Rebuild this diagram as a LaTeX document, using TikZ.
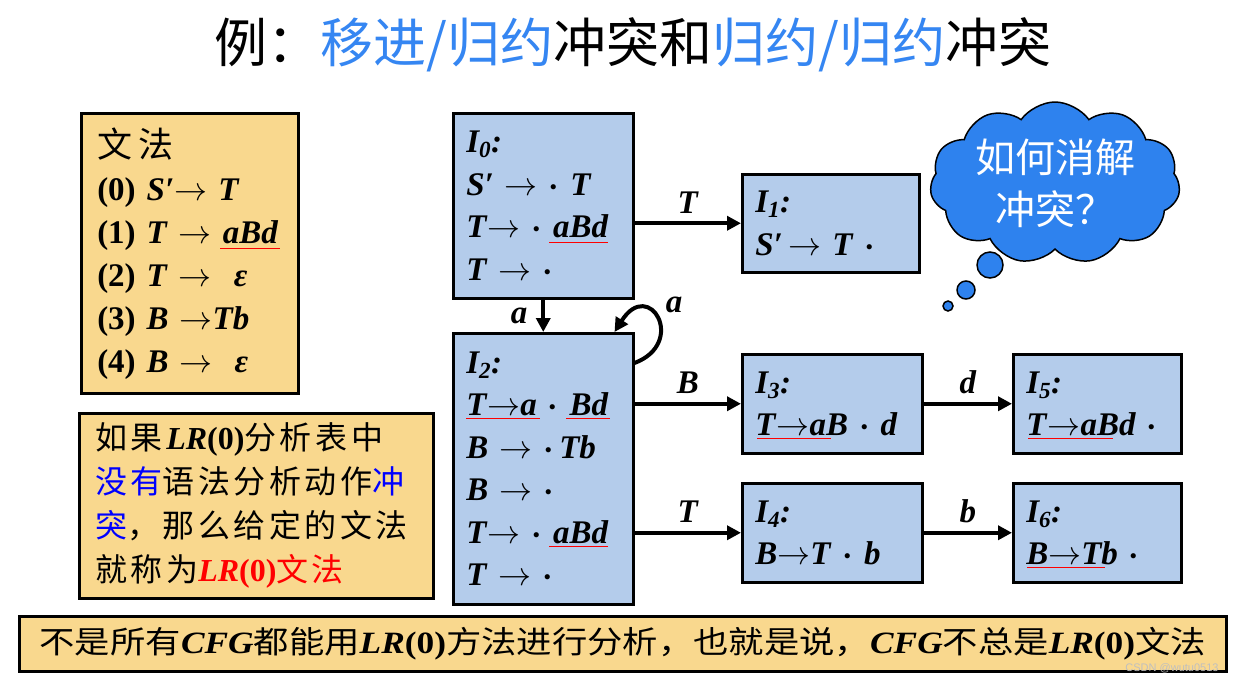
\RequirePackage{fix-cm}
\documentclass[tikz,border=0pt]{standalone}
\usepackage{amsmath}
\usepackage{fontspec}
\setmainfont{Liberation Serif}
\setsansfont{Liberation Sans}
\newfontfamily\cjk{Noto Sans CJK SC}
\newfontfamily\cjkwide[LetterSpace=11]{Noto Sans CJK SC}
\usetikzlibrary{arrows.meta, calc, shapes.symbols, decorations.pathmorphing}

\definecolor{boxblue}{HTML}{B4CCEB}
\definecolor{notebg}{HTML}{F9D88E}
\definecolor{titleblue}{HTML}{3586F2}
\definecolor{cloudblue}{HTML}{2E82EE}

\newcommand{\mi}[1]{\textbf{\textit{#1}}}
\newcommand{\ra}{$\rightarrow$}
\newcommand{\dt}{$\boldsymbol{\cdot}$}
\newcommand{\lr}{{\rmfamily\mi{LR}\textbf{(0)}}}
\newcommand{\cfg}{{\rmfamily\mi{CFG}}}

\tikzset{
  state/.style={draw, line width=2.5pt, fill=boxblue, anchor=north west, align=left,
    inner xsep=13pt, inner ysep=0pt, font=\fontsize{33}{42.5}\selectfont},
  note/.style={draw, line width=2.5pt, fill=notebg, anchor=north west, align=left, inner xsep=16pt},
  trans/.style={line width=4pt, -{Triangle[length=14pt,width=14pt]}},
  lbl/.style={font=\fontsize{33}{33}\selectfont\bfseries\itshape, inner sep=2pt},
  puff/.style={draw=black, line width=1.5pt, fill=cloudblue},
  typo/.style={red, line width=0.7pt, decorate, decoration={snake, amplitude=1.3pt, segment length=3.5pt}},
}

\begin{document}
\begin{tikzpicture}[x=1pt, y=-1pt]
  \useasboundingbox (0,0) rectangle (1238,683);

  % title
  \node[font=\cjk\fontsize{53}{53}\selectfont] (title) at (633,45)
    {例：\textcolor{titleblue}{移进/归约}冲突和\textcolor{titleblue}{归约/归约}冲突};

  % grammar and remarks
  \node[note, text width=185pt, minimum height=280pt, font=\fontsize{33}{43}\selectfont] (gram) at (80,112)
    {{\cjk\fontsize{35}{43}\selectfont 文\hspace{6pt}法}\\
     \textbf{(0)} \mi{S′}\ra\ \mi{T}\\
     \textbf{(1)} \mi{T} \ra\ \mi{aBd}\\
     \textbf{(2)} \mi{T} \ra\ \ \mi{ε}\\
     \textbf{(3)} \mi{B} \ra\mi{Tb}\\
     \textbf{(4)} \mi{B} \ra\ \ \mi{ε}};
  \node[note, text width=322pt, minimum height=185pt, font=\cjkwide\fontsize{32}{44}\selectfont] (lr0note) at (78,412)
    {如果\lr 分析表中\\
     \textcolor{blue}{没有}语法分析动作\textcolor{blue}{冲}\\
     \textcolor{blue}{突}，那么给定的文法\\
     就称为\textcolor{red}{\lr 文法}};
  \node[note, minimum width=1207pt, minimum height=55pt, inner xsep=0pt, font=\cjk\fontsize{31}{31}\selectfont] (banner) at (18,615)
    {\scalebox{1.14}[1]{不是所有\cfg 都能用\lr 方法进行分析，也就是说，\cfg 不总是\lr 文法}};

  % item sets
  \node[state, text width=154pt, minimum height=185pt] (I0) at (452,112)
    {\mi{I\textsubscript{0}:}\\ \mi{S′} \ra\ \dt\ \mi{T}\\ \mi{T}\ra\ \dt\ \mi{aBd}\\ \mi{T} \ra\ \dt};
  \node[state, text width=154pt, minimum height=271pt] (I2) at (452,332)
    {\mi{I\textsubscript{2}:}\\ \mi{T}\ra\mi{a} \dt\ \mi{Bd}\\ \mi{B} \ra\ \dt\,\mi{Tb}\\ \mi{B} \ra\ \dt\\
     \mi{T}\ra\ \dt\ \mi{aBd}\\ \mi{T} \ra\ \dt};
  \node[state, text width=151pt, minimum height=98pt] (I1) at (741,173)
    {\mi{I\textsubscript{1}:}\\ \mi{S′}\,\ra\ \mi{T} \dt};
  \node[state, text width=154pt, minimum height=99pt] (I3) at (741,353)
    {\mi{I\textsubscript{3}:}\\ \mi{T}\ra\mi{aB} \dt\ \mi{d}};
  \node[state, text width=142pt, minimum height=99pt] (I5) at (1012,353)
    {\mi{I\textsubscript{5}:}\\ \mi{T}\ra\mi{aBd} \dt};
  \node[state, text width=154pt, minimum height=99pt] (I4) at (741,482)
    {\mi{I\textsubscript{4}:}\\ \mi{B}\ra\mi{T} \dt\ \mi{b}};
  \node[state, text width=142pt, minimum height=99pt] (I6) at (1012,482)
    {\mi{I\textsubscript{6}:}\\ \mi{B}\ra\mi{Tb} \dt};

  % transitions
  \draw[trans] (I0.east |- I1.west) -- node[lbl, above=6pt] {T} (I1.west);
  \draw[trans] (I0.south) -- node[lbl, left=12pt] {a} (I2.north);
  \draw[trans] ($(I2.north east)+(0,31)$) .. controls +(53,-20) and +(35,-55) .. ($(I2.north east)+(-20,0)$);
  \node[lbl] (loopA) at (674,305) {a};
  \draw[trans] (I2.east |- I3.west) -- node[lbl, above=6pt] {B} (I3.west);
  \draw[trans] (I2.east |- I4.west) -- node[lbl, above=6pt] {T} (I4.west);
  \draw[trans] (I3) -- node[lbl, above=6pt] {d} (I5);
  \draw[trans] (I4) -- node[lbl, above=6pt] {b} (I6);

  % thought cloud
  \node[cloud, puff, text=white, cloud puffs=11, cloud puff arc=110, aspect=1.6,
    minimum width=250pt, minimum height=162pt, inner sep=-6pt,
    align=center, font=\cjk\fontsize{40}{52}\selectfont] (doubt) at (1055,183) {如何消解\\冲突？};
  \draw[puff] (990,265) circle (13);
  \draw[puff] (966,290) circle (9);
  \draw[puff] (948,306) circle (5);

  % spelling marks
  \begin{scope}[typo]
    \draw (220,248) -- (280,248);
    \draw (549,242) -- (608,242);
    \draw (466,418) -- (540,418);
    \draw (566,418) -- (610,418);
    \draw (549,546) -- (608,546);
    \draw (757,438) -- (831,438);
    \draw (1028,438) -- (1113,438);
    \draw (1027,567) -- (1105,567);
  \end{scope}

  \node[font=\sffamily\fontsize{11}{11}\selectfont, text=gray!50] (mark) at (1172,668) {CSDN @wutu0513};
\end{tikzpicture}
\end{document}
